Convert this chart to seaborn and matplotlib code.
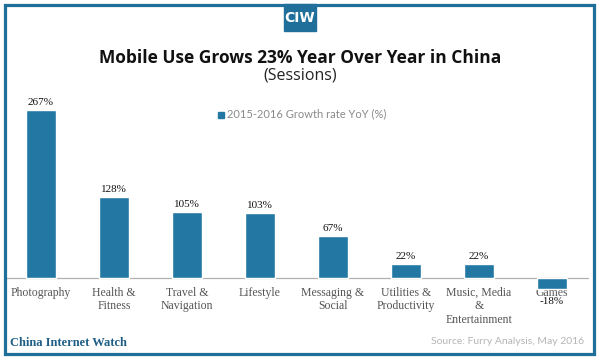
import pandas as pd
import matplotlib.pyplot as plt
import seaborn as sns
from matplotlib.patches import Rectangle

# chart data
categories = ['Photography', 'Health &\nFitness', 'Travel &\nNavigation', 'Lifestyle',
              'Messaging &\nSocial', 'Utilities &\nProductivity',
              'Music, Media\n&\nEntertainment', 'Games']
growth = [267, 128, 105, 103, 67, 22, 22, -18]
value_labels = ['267%', '128%', '105%', '103%', '67%', '22%', '22%', '-18%']

df = pd.DataFrame({'category': categories, 'growth': growth})

sns.set_style("white")
blue = '#1f6f9a'
bar_blue = '#2378a3'

fig = plt.figure(figsize=(6, 3.58), dpi=100)
# axes placed so baseline sits near the bottom of the plot area
ax = fig.add_axes([4.5 / 600, 1 - 315.8 / 358, 584 / 600, 226.8 / 358])

sns.barplot(data=df, x='category', y='growth', color=bar_blue, width=0.4,
            saturation=1, ax=ax, zorder=2)
ax.set_ylim(-60, 300)
ax.set_xlim(-0.5, len(categories) - 0.5)
ax.axhline(0, color='#b0b0b0', lw=0.9, zorder=1)
ax.set_xticks([])
ax.set_yticks([])
ax.set_xlabel('')
ax.set_ylabel('')
for s in ax.spines.values():
    s.set_visible(False)
ax.patch.set_alpha(0)

# value labels and category labels
for i, (v, lab) in enumerate(zip(growth, value_labels)):
    if v >= 0:
        ax.text(i, v + 5, lab, ha='center', va='bottom', fontsize=8,
                family='Liberation Serif', color='#111111')
    else:
        ax.text(i, v - 12, lab, ha='center', va='top', fontsize=8,
                family='Liberation Serif', color='#111111', zorder=3)
    # the negative bar sits over its label, as in the original
    ax.text(i, -14, categories[i], ha='center', va='top', fontsize=8.5,
            family='Liberation Serif', color='#555555', linespacing=1.15,
            zorder=3 if v >= 0 else 1)

# legend
fig.patches.append(Rectangle((218 / 600, 1 - 118 / 358), 6 / 600, 6 / 358,
                             transform=fig.transFigure, color=bar_blue))
fig.text(227 / 600, 1 - 114 / 358, '2015-2016 Growth rate YoY (%)', ha='left',
         va='center', fontsize=8, color='#8a8a8a', family='Lato')

# titles
fig.text(0.5, 1 - 58 / 358, 'Mobile Use Grows 23% Year Over Year in China',
         ha='center', va='center', fontsize=12.5, fontweight='bold',
         color='#111111', family='Open Sans')
fig.text(0.5, 1 - 76 / 358, '(Sessions)', ha='center', va='center',
         fontsize=11.5, color='#222222', family='Open Sans')

# footer
fig.text(10 / 600, 1 - 343 / 358, 'China Internet Watch', ha='left', va='center',
         fontsize=9, fontweight='bold', color='#1f5f86', family='Liberation Serif')
fig.text(584 / 600, 1 - 341 / 358, 'Source: Furry Analysis, May 2016', ha='right',
         va='center', fontsize=7.5, color='#b5b5b5', family='Lato')

# frame and badge
fig.patches.append(Rectangle((4.5 / 600, 4.5 / 358), 589.5 / 600, 348.5 / 358,
                             transform=fig.transFigure, fill=False,
                             edgecolor=blue, lw=2.3))
fig.patches.append(Rectangle((284 / 600, 1 - 31 / 358), 32 / 600, 27 / 358,
                             transform=fig.transFigure, color=blue))
fig.text(300 / 600, 1 - 18 / 358, 'CIW', ha='center', va='center', fontsize=10,
         fontweight='bold', color='white', family='DejaVu Sans')

fig.savefig('out.png', dpi=100, facecolor='white')
